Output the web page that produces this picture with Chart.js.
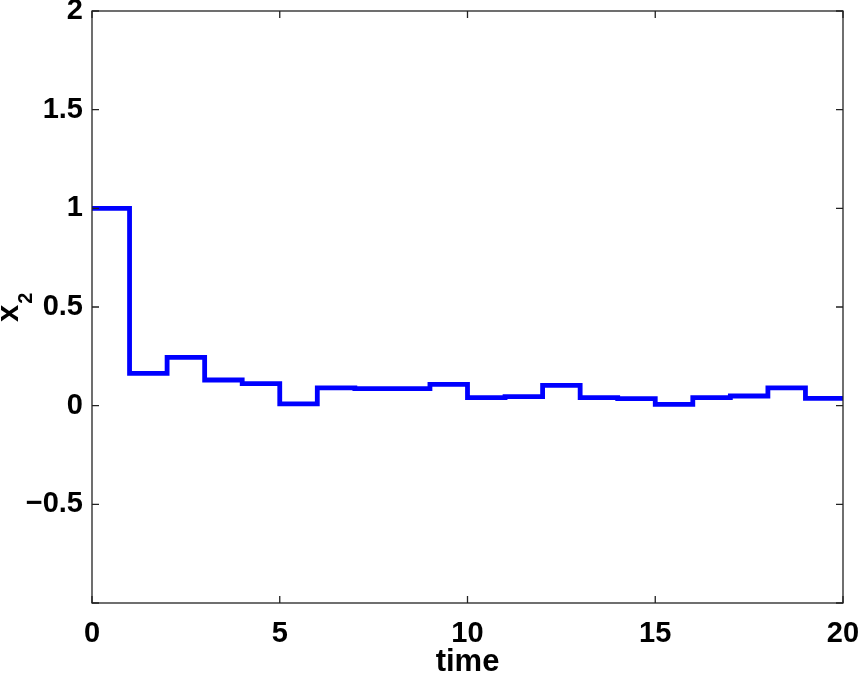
<!DOCTYPE html>
<html>
<head>
  <meta charset="UTF-8">
  <title>x2 over time</title>
  <script src="https://cdn.jsdelivr.net/npm/chart.js"></script>
  <style>
    body { margin: 0; background: #fff; }
    canvas { display: block; }
  </style>
</head>
<body>
  <canvas id="stepChart" width="860" height="676"></canvas>
  <script>
    // sample times and the held value of x2 on each interval [t, t+1)
    const times = [0, 1, 2, 3, 4, 5, 6, 7, 8, 9, 10, 11, 12, 13, 14, 15, 16, 17, 18, 19, 20];
    const x2Values = [1.0, 0.164, 0.245, 0.130, 0.112, 0.009, 0.090, 0.086, 0.086, 0.108,
                      0.041, 0.046, 0.103, 0.041, 0.036, 0.007, 0.041, 0.049, 0.090, 0.037, 0.037];
    const xTicks = [0, 5, 10, 15, 20];
    const yTicks = [-1, -0.5, 0, 0.5, 1, 1.5, 2];

    const FONT = '"Liberation Sans", Arial, Helvetica, sans-serif';
    const points = times.map((t, i) => ({ x: t, y: x2Values[i] }));

    // box, inward tick marks and the rotated y label (MATLAB look)
    const boxPlugin = {
      id: 'box',
      afterDraw(chart) {
        const ctx = chart.ctx;
        const a = chart.chartArea;
        const sx = chart.scales.x, sy = chart.scales.y;
        const len = 7;
        ctx.save();
        ctx.strokeStyle = '#222';
        ctx.lineWidth = 1.3;
        ctx.strokeRect(a.left, a.top, a.right - a.left, a.bottom - a.top);
        ctx.beginPath();
        xTicks.forEach(v => {
          const px = sx.getPixelForValue(v);
          ctx.moveTo(px, a.bottom); ctx.lineTo(px, a.bottom - len);
          ctx.moveTo(px, a.top); ctx.lineTo(px, a.top + len);
        });
        yTicks.forEach(v => {
          const py = sy.getPixelForValue(v);
          ctx.moveTo(a.left, py); ctx.lineTo(a.left + len, py);
          ctx.moveTo(a.right, py); ctx.lineTo(a.right - len, py);
        });
        ctx.stroke();

        // y axis label: x with subscript 2
        ctx.fillStyle = '#000';
        ctx.translate(18, 322);
        ctx.rotate(-Math.PI / 2);
        ctx.textAlign = 'left';
        ctx.textBaseline = 'alphabetic';
        ctx.font = 'bold 31px ' + FONT;
        ctx.fillText('x', 0, 0);
        const w = ctx.measureText('x').width;
        ctx.font = 'bold 20px ' + FONT;
        ctx.fillText('2', w + 1, 14);
        ctx.restore();
      }
    };

    new Chart(document.getElementById('stepChart'), {
      type: 'line',
      data: {
        datasets: [{
          data: points,
          stepped: true,
          borderColor: '#0000ff',
          borderWidth: 4.8,
          pointRadius: 0,
          fill: false
        }]
      },
      options: {
        responsive: false,
        animation: false,
        layout: { padding: { top: 11, right: 17, left: 0, bottom: 0 } },
        plugins: { legend: { display: false }, tooltip: { enabled: false } },
        scales: {
          x: {
            type: 'linear',
            min: 0, max: 20,
            afterBuildTicks: s => { s.ticks = xTicks.map(v => ({ value: v })); },
            afterFit: s => { s.height = 73; s.paddingLeft = 0; s.paddingRight = 0; },
            grid: { display: false, drawTicks: false },
            border: { display: false },
            ticks: { color: '#000', padding: 14, maxRotation: 0, font: { family: FONT, size: 29, weight: 'bold' } },
            title: {
              display: true, text: 'time', color: '#000', padding: { top: 0, bottom: -2 },
              font: { family: FONT, size: 31, weight: 'bold', lineHeight: 1.0 }
            }
          },
          y: {
            min: -1, max: 2,
            afterBuildTicks: s => { s.ticks = yTicks.map(v => ({ value: v })); },
            afterFit: s => { s.width = 92; s.paddingTop = 0; s.paddingBottom = 0; },
            grid: { display: false, drawTicks: false },
            border: { display: false },
            ticks: {
              color: '#000', padding: 9,
              font: { family: FONT, size: 29, weight: 'bold' },
              callback: v => v === -1 ? '' : String(v).replace('-', '\u2212')
            }
          }
        }
      },
      plugins: [boxPlugin]
    });
  </script>
</body>
</html>
